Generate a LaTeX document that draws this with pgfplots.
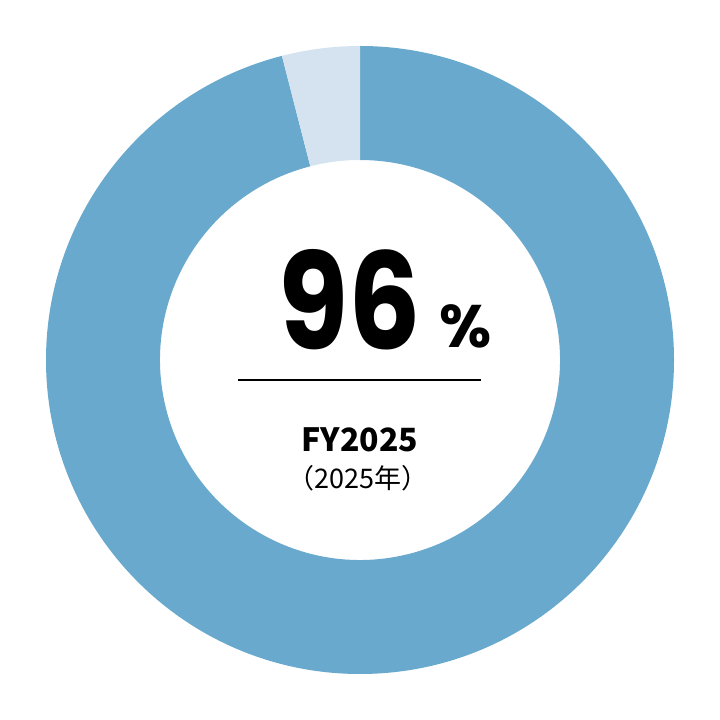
\documentclass[border=0pt]{standalone}
\usepackage{pgfplots}
\pgfplotsset{compat=1.18}
\usepackage{fontspec}
\newfontfamily\pop{Poppins}
\newfontfamily\cjk{Noto Sans CJK JP}
\definecolor{donutblue}{HTML}{68A9CD}
\definecolor{donutlight}{HTML}{D4E3EF}

% share of the year (percent)
\def\share{96}
\def\Router{314pt}
\def\Rinner{200pt}

\begin{document}
\begin{tikzpicture}
\begin{axis}[
    width=720pt, height=720pt,
    scale only axis,
    hide axis,
    xmin=-360, xmax=360,
    ymin=-360, ymax=360,
]
\path (axis cs:-360,-360) rectangle (axis cs:360,360);
\pgfmathsetmacro{\endang}{90-3.6*\share}
% main segment, clockwise from the top
\fill[donutblue] ([shift={(90:\Router)}]axis cs:0,0)
    arc[start angle=90, end angle=\endang, radius=\Router]
    -- ([shift={(\endang:\Rinner)}]axis cs:0,0)
    arc[start angle=\endang, end angle=90, radius=\Rinner] -- cycle;
% remaining segment
\fill[donutlight] ([shift={(\endang:\Router)}]axis cs:0,0)
    arc[start angle=\endang, end angle=-270, radius=\Router]
    -- ([shift={(-270:\Rinner)}]axis cs:0,0)
    arc[start angle=-270, end angle=\endang, radius=\Rinner] -- cycle;

\node[anchor=base, inner sep=0pt, xscale=0.85] at (axis cs:-10,10)
    {\pop\bfseries\fontsize{134}{134}\selectfont \share};
\node[anchor=base, inner sep=0pt] at (axis cs:106,12)
    {\pop\bfseries\fontsize{60}{60}\selectfont \%};
\draw[line width=2pt, black] (axis cs:-122,-20) -- (axis cs:121,-20);
\node[anchor=base, inner sep=0pt] at (axis cs:0,-92)
    {\cjk\bfseries\fontsize{32}{32}\selectfont FY2025};
\node[anchor=base, inner sep=0pt] at (axis cs:-2,-129)
    {\cjk\fontsize{27}{27}\selectfont （2025年）};
\end{axis}
\end{tikzpicture}
\end{document}
